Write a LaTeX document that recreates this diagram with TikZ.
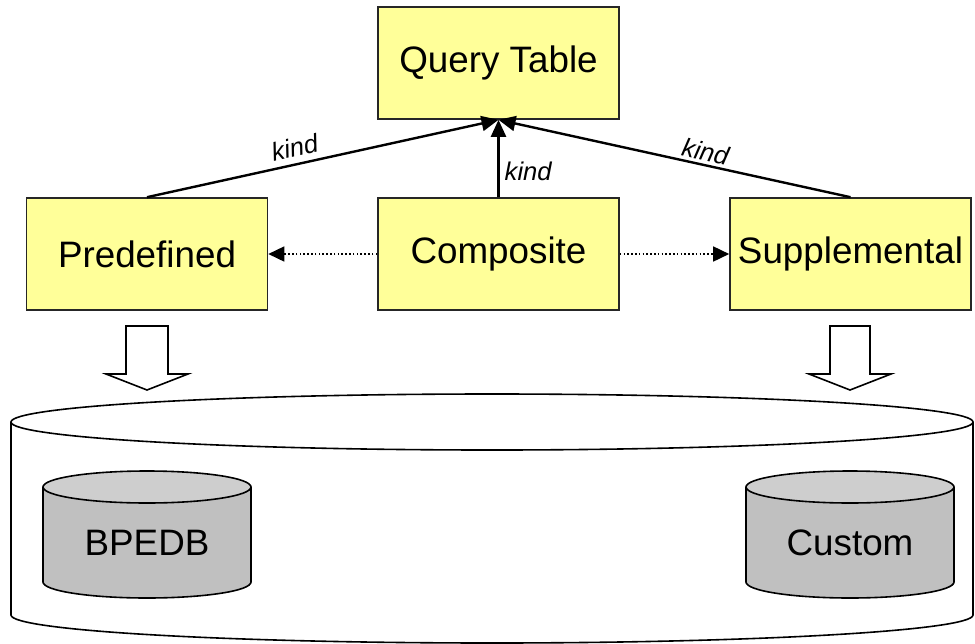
\documentclass[tikz,border=0pt]{standalone}
\usepackage{fontspec}
\setmainfont{Liberation Sans}
\usetikzlibrary{arrows.meta}
\definecolor{boxfill}{HTML}{FFFF99}
\definecolor{dbbody}{HTML}{C0C0C0}
\definecolor{dbtop}{HTML}{CECECE}
\begin{document}
\begin{tikzpicture}[x=1pt,y=-1pt,
  box/.style={draw=black!85, line width=1.6pt, fill=boxfill, minimum width=241pt, minimum height=112pt, inner sep=0pt, font=\fontsize{36.8}{44}\selectfont},
  kindarrow/.style={line width=2.4pt, -{Triangle[length=17pt,width=15pt]}},
  kindlabel/.style={font=\fontsize{25.6}{30}\selectfont\itshape, inner sep=0pt},
  dotarrow/.style={line width=1.6pt, dash pattern=on 1.6pt off 2.2pt, -{Triangle[length=16pt,width=15pt]}},
  blockarrow/.style={draw=black, line width=1.6pt, fill=white, line join=miter},
  cyl/.style={line width=1.6pt},
  dbtext/.style={font=\fontsize{36.8}{44}\selectfont, inner sep=0pt}]
\useasboundingbox (0,0) rectangle (975,643);

% boxes
\node[box] (qt)   at (498.5,63)  {Query Table};
\node[box] (pre)  at (147,254)   {Predefined};
\node[box] (comp) at (498.5,254) {Composite};
\node[box] (sup)  at (850.5,254) {Supplemental};

% kind arrows
\draw[kindarrow] (pre.north) -- node[kindlabel, pos=0.43, sloped, above=6pt] {kind} (qt.south);
\draw[kindarrow] (sup.north) -- node[kindlabel, pos=0.42, sloped, above=3pt] {kind} (qt.south);
\draw[kindarrow] (comp.north) -- node[kindlabel, pos=0.33, right=5pt] {kind} (qt.south);

% dotted arrows
\draw[dotarrow] (comp.west) -- (pre.east);
\draw[dotarrow] (comp.east) -- (sup.west);

% big cylinder
\draw[cyl, fill=white] (11,422) -- (11,615) arc[start angle=180, end angle=0, x radius=481, y radius=28] -- (973,422);
\draw[cyl, fill=white] (492,422) ellipse [x radius=481, y radius=28];

% block arrows
\draw[blockarrow] (126,326) -- (168,326) -- (168,374) -- (188,374) -- (147,390) -- (106,374) -- (126,374) -- cycle;
\draw[blockarrow] (830,326) -- (870,326) -- (870,374) -- (891,374) -- (850,390) -- (809,374) -- (830,374) -- cycle;

% BPEDB cylinder
\fill[dbbody] (43,487) -- (43,582) arc[start angle=180, end angle=0, x radius=104, y radius=16] -- (251,487) -- cycle;
\draw[cyl] (43,487) -- (43,582) arc[start angle=180, end angle=0, x radius=104, y radius=16] -- (251,487);
\draw[cyl, fill=dbtop] (147,487) ellipse [x radius=104, y radius=16];
\node[dbtext] (bpedb) at (147,543) {BPEDB};

% Custom cylinder
\fill[dbbody] (746,487) -- (746,582) arc[start angle=180, end angle=0, x radius=104, y radius=16] -- (954,487) -- cycle;
\draw[cyl] (746,487) -- (746,582) arc[start angle=180, end angle=0, x radius=104, y radius=16] -- (954,487);
\draw[cyl, fill=dbtop] (850,487) ellipse [x radius=104, y radius=16];
\node[dbtext] (custom) at (850,543) {Custom};
\end{tikzpicture}
\end{document}
